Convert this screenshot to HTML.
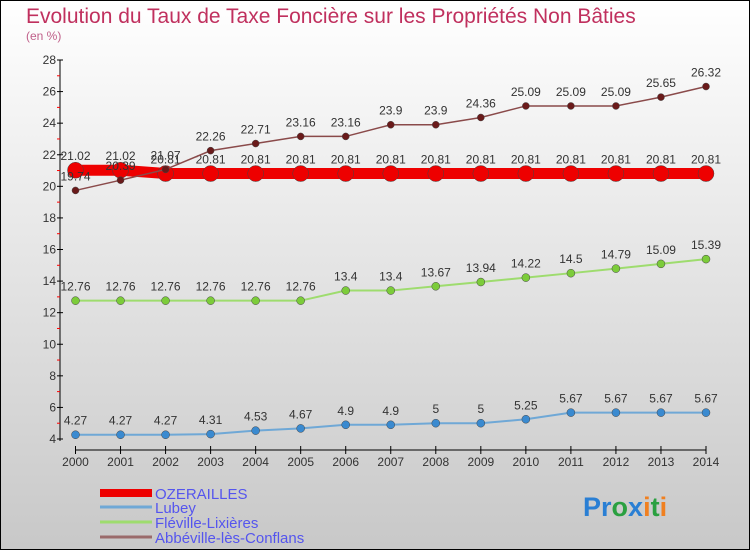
<!DOCTYPE html>
<html><head><meta charset="utf-8"><style>
body{margin:0}
svg{display:block;font-family:"Liberation Sans",sans-serif}
</style></head><body>
<svg id="c" width="750" height="550">
<defs><linearGradient id="bg" x1="0" y1="0" x2="0" y2="1"><stop offset="0" stop-color="#ffffff"/><stop offset="1" stop-color="#c8c8c8"/></linearGradient></defs>
<rect x="0.5" y="0.5" width="749" height="549" fill="url(#bg)" stroke="#000"/>
<text x="26" y="23" font-size="21" fill="#c0305e">Evolution du Taux de Taxe Foncière sur les Propriétés Non Bâties</text>
<text x="26" y="40" font-size="12" fill="#c0608a">(en %)</text>
<g id="axes"></g><g id="series"></g>
<g>
<rect x="100" y="489" width="52" height="8" fill="#e00"/>
<text x="155" y="499" font-size="15" fill="#5555ee">OZERAILLES</text>
<line x1="100" y1="507" x2="152" y2="507" stroke="#6fa8d6" stroke-width="3"/>
<text x="155" y="513" font-size="15" fill="#5555ee">Lubey</text>
<line x1="100" y1="522" x2="152" y2="522" stroke="#9edc6e" stroke-width="3"/>
<text x="155" y="528" font-size="15" fill="#5555ee">Fléville-Lixières</text>
<line x1="100" y1="537" x2="152" y2="537" stroke="#9a6a6a" stroke-width="3"/>
<text x="155" y="543" font-size="15" fill="#5555ee">Abbéville-lès-Conflans</text>
</g>
<text x="583" y="516" font-size="27" font-weight="bold"><tspan fill="#2a7fd4">Pr</tspan><tspan fill="#2aa040">o</tspan><tspan fill="#2a7fd4">x</tspan><tspan fill="#f08020">i</tspan><tspan fill="#2aa040">t</tspan><tspan fill="#f08020">i</tspan></text>
</svg>
<script>
const years=[2000,2001,2002,2003,2004,2005,2006,2007,2008,2009,2010,2011,2012,2013,2014];
const yTicks=[4,6,8,10,12,14,16,18,20,22,24,26,28];
const ozerailles=[21.02,21.02,20.81,20.81,20.81,20.81,20.81,20.81,20.81,20.81,20.81,20.81,20.81,20.81,20.81];
const lubey=[4.27,4.27,4.27,4.31,4.53,4.67,4.9,4.9,5,5,5.25,5.67,5.67,5.67,5.67];
const fleville=[12.76,12.76,12.76,12.76,12.76,12.76,13.4,13.4,13.67,13.94,14.22,14.5,14.79,15.09,15.39];
const abbeville=[19.74,20.39,21.07,22.26,22.71,23.16,23.16,23.9,23.9,24.36,25.09,25.09,25.09,25.65,26.32];
const NS="http://www.w3.org/2000/svg";
const xS=i=>75.5+i*(706-75.5)/14;
const yS=v=>60+(28-v)*(379/24);
function mk(t,a,p){const e=document.createElementNS(NS,t);for(const k in a)e.setAttribute(k,a[k]);p.appendChild(e);return e;}
const ax=document.getElementById('axes');
let yl=mk('line',{x1:60,y1:60,x2:60,y2:441,stroke:'#000'},ax);


let xl=mk('line',{x1:75,y1:450,x2:706,y2:450,stroke:'#000'},ax);


yTicks.forEach(v=>{
  mk('line',{x1:57,y1:yS(v),x2:63,y2:yS(v),stroke:'#000'},ax);
  if(v<28)mk('line',{x1:57,y1:yS(v+1),x2:60,y2:yS(v+1),stroke:'#f00'},ax);
  const t=mk('text',{x:56,y:yS(v)+4,'text-anchor':'end','font-size':12,fill:'#333'},ax);
  t.textContent=v;
  
  
});
years.forEach((y,i)=>{
  mk('line',{x1:xS(i),y1:446,x2:xS(i),y2:454,stroke:'#000'},ax);
  const t=mk('text',{x:xS(i),y:466,'text-anchor':'middle','font-size':12,fill:'#333'},ax);
  t.textContent=y;
  
  
});
const sg=document.getElementById('series');
function draw(name,data,color,lw,r,ptColor){
  const g=mk('g',{},sg);
  
  
  mk('polyline',{points:data.map((v,i)=>xS(i)+','+yS(v)).join(' '),fill:'none',stroke:color,'stroke-width':lw},g);
  data.forEach((v,i)=>{
    const c=mk('circle',{cx:xS(i),cy:yS(v),r:r,fill:ptColor,stroke:'#444','stroke-width':0.5},g);
    
    
    const t=mk('text',{x:xS(i),y:yS(v)-10,'text-anchor':'middle','font-size':12,fill:'#333'},g);
    t.textContent=v;
    
    
  });
}
draw('lubey',lubey,'#6fa8d6',2,4,'#3a8ad0');
draw('fleville',fleville,'#9edc6e',2,4,'#7ccc3a');
draw('ozerailles',ozerailles,'#ee0000',11,8,'#ee0000');
draw('abbeville',abbeville,'#8a4a4a',1.5,3.5,'#6a1a1a');
</script>
</body></html>
